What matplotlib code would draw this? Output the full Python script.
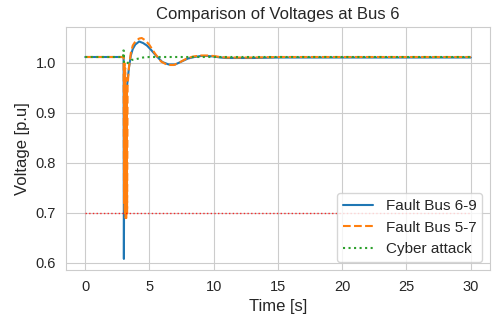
import matplotlib
matplotlib.use('Agg')
import matplotlib.pyplot as plt
import seaborn as sns

# --- Data (time in s, voltage in p.u.) ---
t_fault69 = [0.0, 2.99, 3.0, 3.01, 3.04, 3.1, 3.2, 3.3, 3.4, 3.55, 3.7, 3.9, 4.2,
             4.5, 4.8, 5.1, 5.5, 6.0, 6.5, 7.0, 7.5, 8.0, 8.5, 9.0, 9.5,
             10.0, 10.5, 11.0, 12.0, 13.0, 15.0, 20.0, 25.0, 30.0]
v_fault69 = [1.012, 1.012, 0.80, 0.608, 0.86, 0.91, 0.94, 0.965, 0.99, 1.015, 1.028, 1.037, 1.043,
             1.040, 1.035, 1.027, 1.015, 1.002, 0.997, 0.997, 1.003, 1.009, 1.012, 1.014, 1.014,
             1.013, 1.011, 1.010, 1.010, 1.010, 1.011, 1.011, 1.011, 1.011]

t_fault57 = [0.0, 2.99, 3.02, 3.05, 3.08, 3.11, 3.14, 3.17, 3.2, 3.23, 3.26, 3.3, 3.4, 3.55,
             3.7, 3.9, 4.2, 4.4, 4.7, 5.0, 5.4, 5.9, 6.4, 6.9, 7.4, 7.9, 8.4,
             9.0, 9.5, 10.0, 10.5, 11.0, 12.0, 13.0, 15.0, 20.0, 25.0, 30.0]
v_fault57 = [1.012, 1.012, 0.72, 1.00, 0.70, 0.99, 0.69, 0.97, 0.69, 0.95, 0.70, 0.955, 0.99, 1.02,
             1.035, 1.043, 1.049, 1.050, 1.045, 1.036, 1.020, 1.003, 0.996, 0.996, 1.002, 1.009, 1.013,
             1.015, 1.015, 1.014, 1.012, 1.011, 1.011, 1.011, 1.012, 1.012, 1.012, 1.012]

t_cyber = [0.0, 2.96, 2.97, 3.0, 3.02, 3.3, 3.6, 4.0, 4.5, 5.0, 6.0, 8.0, 10.0, 15.0, 20.0, 25.0, 30.0]
v_cyber = [1.012, 1.012, 1.025, 1.025, 0.999, 1.000, 1.006, 1.008, 1.011, 1.012, 1.012, 1.012, 1.012,
           1.012, 1.012, 1.012, 1.012]

limit_t = [0.0, 30.0]
limit_v = [0.7, 0.7]

sns.set_style('whitegrid')
plt.rcParams['font.family'] = ['Liberation Sans', 'DejaVu Sans']

fig = plt.figure(figsize=(4.92, 3.21), dpi=100)
ax = fig.add_axes([0.134, 0.159, 0.862, 0.757])

ax.plot(t_fault69, v_fault69, color='#1f77b4', lw=1.5, label='Fault Bus 6-9')
ax.plot(t_fault57, v_fault57, color='#ff7f0e', lw=1.5, ls='--', label='Fault Bus 5-7')
ax.plot(t_cyber, v_cyber, color='#2ca02c', lw=1.5, ls=':', label='Cyber attack')
ax.plot(limit_t, limit_v, color='red', lw=1.0, ls=':', alpha=0.8)

ax.set_title('Comparison of Voltages at Bus 6', fontsize=12)
ax.set_xlabel('Time [s]', fontsize=12)
ax.set_ylabel('Voltage [p.u]', fontsize=12)
ax.set_xticks([0, 5, 10, 15, 20, 25, 30])
ax.set_yticks([0.6, 0.7, 0.8, 0.9, 1.0])
ax.tick_params(labelsize=10.5)
ax.legend(loc='lower right', fontsize=11)

fig.savefig('out.png', dpi=100)
